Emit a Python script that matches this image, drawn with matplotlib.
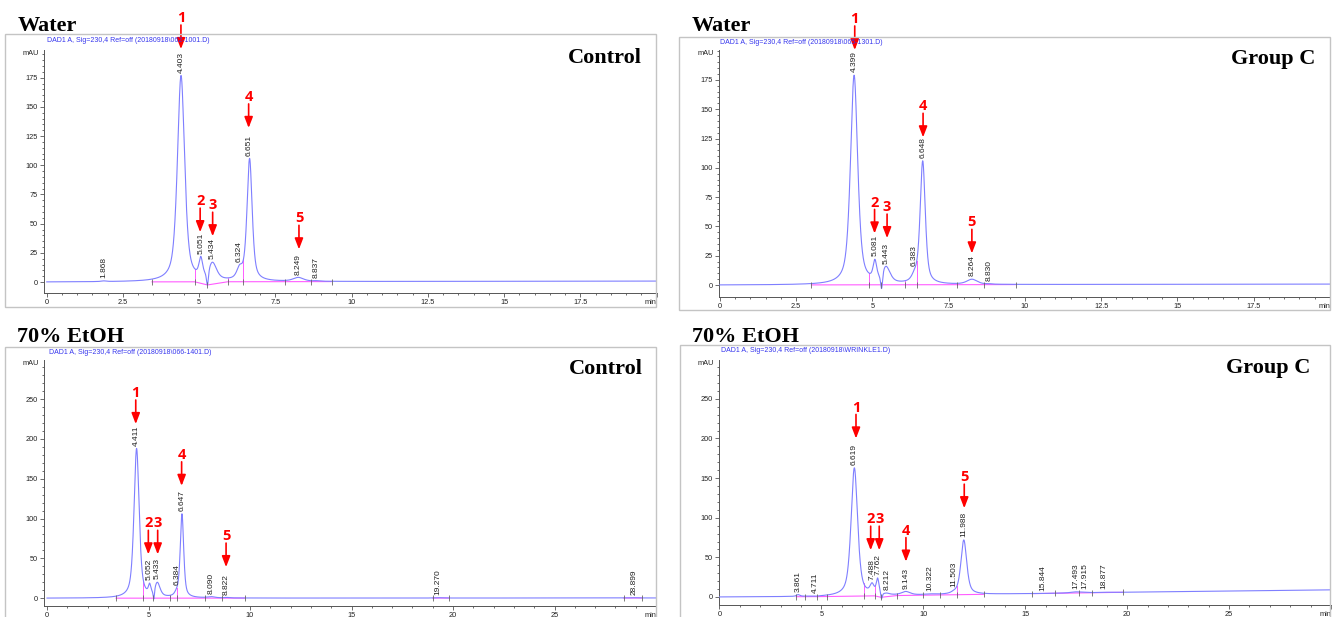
import numpy as np
import matplotlib.pyplot as plt
from matplotlib.patches import Rectangle

W, H = 1338, 617

# ---- peak tables (rt in min, apex in mAU, half width in min)
tl_rt = [1.868, 4.403, 5.051, 5.434, 6.324, 6.651, 8.249, 8.837]
tl_apex = [1.0, 177, 22, 17, 15, 106, 4, 1.2]
tl_width = [0.10, 0.14, 0.07, 0.16, 0.11, 0.10, 0.20, 0.10]
tl_dip_rt = [5.27]
tl_dip_apex = [-2.5]
tl_dip_width = [0.04]
tl_drift = [0.0, 0.8]
tl_bounds = [[3.45, 4.85, 5.27, 5.94, 6.45, 7.81, 8.68, 9.34]]
tl_arrow_x = [4.40, 5.03, 5.44, 6.62, 8.27]
tl_arrow_tip = [199.6, 42.7, 39.2, 132, 28]

tr_rt = [4.399, 5.081, 5.443, 6.383, 6.648, 8.264, 8.830]
tr_apex = [179, 22, 16, 14, 106, 5, 1.2]
tr_width = [0.14, 0.07, 0.16, 0.11, 0.10, 0.20, 0.10]
tr_dip_rt = [5.30]
tr_dip_apex = [-3.0]
tr_dip_width = [0.04]
tr_drift = [0.0, 0.8]
tr_bounds = [[3.00, 4.89, 5.27, 6.07, 6.45, 7.78, 8.66, 9.70]]
tr_arrow_x = [4.42, 5.07, 5.48, 6.66, 8.26]
tr_arrow_tip = [200.5, 44, 40, 126, 27]

bl_rt = [4.411, 5.052, 5.433, 6.384, 6.647, 8.090, 8.822, 19.270, 28.899]
bl_apex = [188, 19, 20, 13, 106, 2, 1, 0.6, 0.6]
bl_width = [0.15, 0.07, 0.16, 0.11, 0.10, 0.20, 0.15, 0.20, 0.20]
bl_dip_rt = [5.26]
bl_dip_apex = [-1.0]
bl_dip_width = [0.04]
bl_drift = [0.0, 0.3]
bl_bounds = [[3.40, 4.75, 5.24, 6.06, 6.39, 7.78, 8.60, 9.75],
             [19.0, 19.8], [28.4, 29.3]]
bl_arrow_x = [4.37, 4.99, 5.45, 6.63, 8.82]
bl_arrow_tip = [218.6, 55, 55, 141, 39]

br_rt = [3.861, 4.711, 6.619, 7.488, 7.762, 8.212, 9.143, 10.322, 11.503,
         11.988, 15.844, 17.493, 17.915, 18.877]
br_apex = [3, 1, 163, 18, 24, 5, 7, 4, 9, 72, 4.5, 6.5, 6, 6]
br_width = [0.10, 0.15, 0.19, 0.12, 0.08, 0.15, 0.25, 0.30, 0.15, 0.17,
            0.30, 0.30, 0.20, 0.30]
br_dip_rt = [7.95]
br_dip_apex = [-2.0]
br_dip_width = [0.05]
br_drift_t = [0, 5, 12, 20, 30]
br_drift_y = [0.0, 0.5, 3.0, 6.0, 9.0]
br_bounds = [[3.77, 4.22, 4.79, 5.28, 7.07, 7.61, 7.93, 8.71, 10.0, 10.83,
              11.65, 12.96], [15.33, 16.47, 17.65, 18.3, 19.8]]
br_arrow_x = [6.70, 7.42, 7.84, 9.15, 12.01]
br_arrow_tip = [200, 59, 59, 44.6, 112]

arrow_nums = ["1", "2", "3", "4", "5"]

TRACE = "#7f7fff"
BASEL = "#ff5cff"
RED = "#ff0000"
SANS = "Liberation Sans"

plt.rcParams["font.family"] = SANS


def shape(t, rt, w, eta=0.6):
    u = (t - rt) / w
    return eta / (1 + u * u) + (1 - eta) * np.exp(-np.log(2) * u * u)


def build(rts, apex, widths, drift_fn):
    # solve component heights so that the summed trace hits each apex
    n = len(rts)
    A = np.array([[shape(rts[i], rts[j], widths[j]) for j in range(n)] for i in range(n)])
    target = np.array(apex) - drift_fn(np.array(rts))
    h = np.linalg.solve(A, target)

    def f(t):
        y = drift_fn(t).astype(float)
        for rt, hh, w in zip(rts, h, widths):
            y = y + hh * shape(t, rt, w)
        return y
    return f


def px_rect(l, t, r, b):
    return [l / W, 1 - b / H, (r - l) / W, (b - t) / H]


fig = plt.figure(figsize=(W / 100, H / 100), dpi=100)


def panel(frame, axbox, xlim, ylim, xmajor, xminor, ymajor, yminor, ytop,
          rts, apex, widths, dip_rt, dip_apex, dip_width, drift_fn,
          bounds, arrow_x, arrow_tip, dad, left_title, right_title,
          lt_pos, rt_pos, dad_pos):
    l, t, r, b = frame
    fig.add_artist(Rectangle((l / W, 1 - b / H), (r - l) / W, (b - t) / H,
                             transform=fig.transFigure, fill=False,
                             edgecolor="#c4c4c4", lw=1.0))
    ax = fig.add_axes(px_rect(*axbox))
    ax.patch.set_alpha(0)
    for s in ["top", "right"]:
        ax.spines[s].set_visible(False)
    for s in ["left", "bottom"]:
        ax.spines[s].set_color("#555555")
        ax.spines[s].set_linewidth(0.7)
    ax.set_xlim(*xlim)
    ax.set_ylim(*ylim)

    all_rt = list(rts) + list(dip_rt)
    all_apex = list(apex) + list(dip_apex)
    all_w = list(widths) + list(dip_width)
    f = build(all_rt, all_apex, all_w, drift_fn)

    t = np.linspace(0, xlim[1], 8000)
    ax.plot(t, f(t), color=TRACE, lw=0.8, zorder=3)

    # integration baseline, drop lines and boundary ticks
    for seg in bounds:
        seg = np.array(seg)
        yb = np.minimum(f(seg), drift_fn(seg))
        ax.plot(seg, yb, color=BASEL, lw=0.8, zorder=2)
        for k, (xb, y0) in enumerate(zip(seg, yb)):
            if 0 < k < len(seg) - 1:
                ax.plot([xb, xb], [y0, f(np.array([xb]))[0]], color=BASEL,
                        lw=0.7, zorder=2)
            ax.plot(xb, y0, marker="|", ms=4, mew=0.6, color="#666666", zorder=4)

    # retention time labels
    tops = f(np.array(rts))
    for rt, top in zip(rts, tops):
        ax.annotate(f"{rt:.3f}", xy=(rt, top), xytext=(0, 2.0),
                    textcoords="offset points", rotation=90, ha="center",
                    va="bottom", fontsize=6, color="#222222", zorder=5,
                    annotation_clip=False)

    # red arrows with compound numbers
    for num, xa, tip in zip(arrow_nums, arrow_x, arrow_tip):
        ax.annotate("", xy=(xa, tip), xytext=(0, 17.3), textcoords="offset points",
                    arrowprops=dict(arrowstyle="-|>,head_length=0.65,head_width=0.25",
                                    color=RED, lw=1.2, shrinkA=0, shrinkB=0,
                                    mutation_scale=10),
                    annotation_clip=False, zorder=6)
        ax.annotate(num, xy=(xa, tip), xytext=(0, 19.4), textcoords="offset points",
                    ha="center", va="baseline", color=RED, fontsize=10.5,
                    fontweight="bold", family="Open Sans", annotation_clip=False,
                    zorder=6)

    # ticks
    xt = np.arange(0, xlim[1] + 1e-6, xmajor)
    ax.set_xticks(xt)
    labels = [f"{v:g}" for v in xt]
    labels[-1] = "min"
    tl = ax.set_xticklabels(labels)
    tl[-1].set_horizontalalignment("right")
    ax.set_xticks(np.arange(0, xlim[1] + 1e-6, xminor), minor=True)
    yt = np.arange(0, ytop + 1e-6, ymajor)
    ax.set_yticks(yt)
    ax.set_yticklabels([f"{v:g}" for v in yt])
    ax.set_yticks(np.arange(0, ylim[1], yminor), minor=True)
    ax.tick_params(which="both", direction="out", colors="#555555", width=0.6,
                   labelsize=5.3, labelcolor="#222222", pad=1.5)
    ax.tick_params(which="major", length=3)
    ax.tick_params(which="minor", length=1.6)
    ax.annotate("mAU", xy=(0, 1), xycoords="axes fraction", xytext=(-3.6, -2.2),
                textcoords="offset points", ha="right", va="center",
                fontsize=5.3, color="#222222")

    fig.text(dad_pos[0] / W, 1 - dad_pos[1] / H, dad, fontsize=5, color="#3535ee",
             va="center", ha="left")
    fig.text(lt_pos[0] / W, 1 - lt_pos[1] / H, left_title, fontsize=16,
             family="Liberation Serif", fontweight="bold", va="baseline", ha="left")
    fig.text(rt_pos[0] / W, 1 - rt_pos[1] / H, right_title, fontsize=16,
             family="Liberation Serif", fontweight="bold", va="baseline", ha="right")
    return ax


def lin(d0, d1, span):
    return lambda t: d0 + (d1 - d0) * np.asarray(t, dtype=float) / span


panel((5, 34, 656, 307), (44, 50, 656.7, 293), (-0.09, 20), (-9.4, 198.8),
      2.5, 0.5, 25, 5, 175, tl_rt, tl_apex, tl_width, tl_dip_rt, tl_dip_apex,
      tl_dip_width, lin(tl_drift[0], tl_drift[1], 20), tl_bounds,
      tl_arrow_x, tl_arrow_tip,
      "DAD1 A, Sig=230,4 Ref=off (20180918\\062-1001.D)", "Water", "Control",
      (18, 31), (642, 63), (47, 40))

panel((679, 37, 1330, 310), (719.3, 50, 1330, 297), (-0.02, 20), (-10.2, 200.5),
      2.5, 0.5, 25, 5, 175, tr_rt, tr_apex, tr_width, tr_dip_rt, tr_dip_apex,
      tr_dip_width, lin(tr_drift[0], tr_drift[1], 20), tr_bounds,
      tr_arrow_x, tr_arrow_tip,
      "DAD1 A, Sig=230,4 Ref=off (20180918\\065-1301.D)", "Water", "Group C",
      (692, 31), (1315, 64), (720, 42))

panel((5, 347, 656, 640), (44, 360, 656, 606), (-0.15, 30), (-9.8, 299),
      5, 1, 50, 10, 250, bl_rt, bl_apex, bl_width, bl_dip_rt, bl_dip_apex,
      bl_dip_width, lin(bl_drift[0], bl_drift[1], 30), bl_bounds,
      bl_arrow_x, bl_arrow_tip,
      "DAD1 A, Sig=230,4 Ref=off (20180918\\066-1401.D)", "70% EtOH", "Control",
      (17, 342), (643, 374), (49, 352))

panel((680, 345, 1330, 640), (719, 360, 1331, 605), (-0.02, 30), (-10.1, 299),
      5, 1, 50, 10, 250, br_rt, br_apex, br_width, br_dip_rt, br_dip_apex,
      br_dip_width, lambda t: np.interp(t, br_drift_t, br_drift_y), br_bounds,
      br_arrow_x, br_arrow_tip,
      "DAD1 A, Sig=230,4 Ref=off (20180918\\WRINKLE1.D)", "70% EtOH", "Group C",
      (692, 342), (1310, 373), (721, 350))

fig.savefig("out.png", dpi=100)
